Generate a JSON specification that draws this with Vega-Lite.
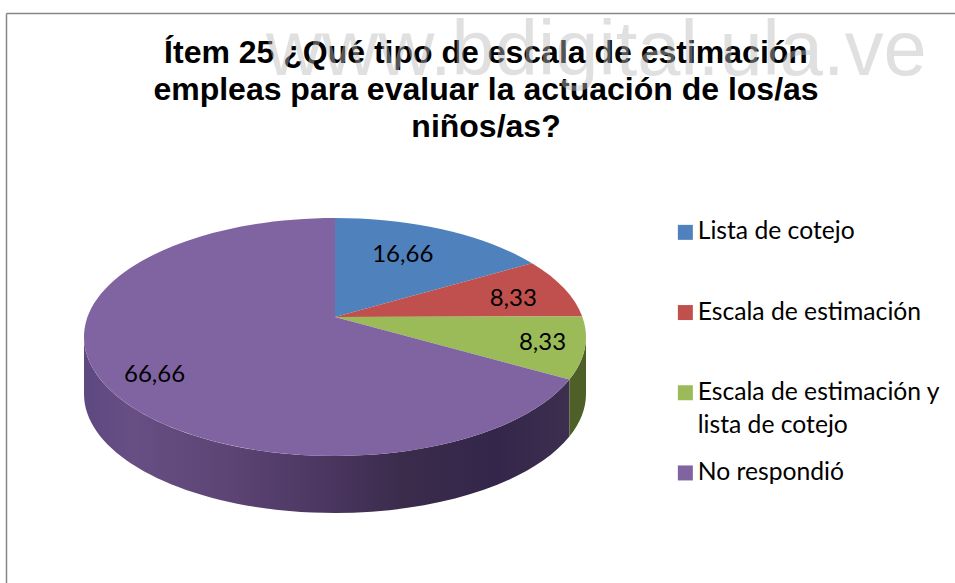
{
 "$schema":"https://vega.github.io/schema/vega-lite/v6.json",
 "autosize":{"type":"none"},
 "width":500,"height":200,
 "padding":{"left":85,"top":217,"right":370,"bottom":166},
 "background":"white",
 "view":{"stroke":null},
 "config":{"style":{"guide-label":{"lineHeight":33}}},
 "data":{"values":[
  {"categoria":"Lista de cotejo","valor":16.66,"orden":0},
  {"categoria":"Escala de estimación","valor":8.33,"orden":1},
  {"categoria":"Escala de estimación y lista de cotejo","valor":8.33,"orden":2},
  {"categoria":"No respondió","valor":66.66,"orden":3}
 ]},
 "transform":[
  {"joinaggregate":[{"op":"sum","field":"valor","as":"total"}]},
  {"window":[{"op":"sum","field":"valor","as":"acum"}],"sort":[{"field":"orden","order":"ascending"}]},
  {"calculate":"2*PI*(datum.acum-datum.valor)/datum.total","as":"a0"},
  {"calculate":"2*PI*datum.acum/datum.total","as":"a1"},
  {"calculate":"2*atan2(0.84*sin(datum.a0/2),cos(datum.a0/2))","as":"t0"},
  {"calculate":"2*atan2(0.84*sin(datum.a1/2),cos(datum.a1/2))","as":"t1"},
  {"calculate":"2*atan2(0.84*sin((datum.a0+datum.a1)/4),cos((datum.a0+datum.a1)/4))","as":"tm"},
  {"calculate":"'M0,0L'+(251*sin(datum.t0))+','+(20-119*cos(datum.t0))+'A251,119 0 '+(datum.t1-datum.t0>PI?1:0)+' 1 '+(251*sin(datum.t1))+','+(20-119*cos(datum.t1))+'Z'","as":"cara"},
  {"calculate":"max(datum.t0,PI/2)","as":"s0"},
  {"calculate":"min(datum.t1,3*PI/2)","as":"s1"},
  {"calculate":"'M'+(251*sin(datum.s0))+','+(20-119*cos(datum.s0))+'A251,119 0 0 1 '+(251*sin(datum.s1))+','+(20-119*cos(datum.s1))+'L'+(251*sin(datum.s1))+','+(77-119*cos(datum.s1))+'A251,119 0 0 0 '+(251*sin(datum.s0))+','+(77-119*cos(datum.s0))+'Z'","as":"lado"},
  {"calculate":"[0.63,0.78,0.83,0.77][datum.orden]*251*sin(datum.tm)","as":"lx"},
  {"calculate":"[0.71,0.62,0.84,0.93][datum.orden]*(20-119*cos(datum.tm))","as":"ly"},
  {"calculate":"replace(format(datum.valor,'.2f'),'.',',')","as":"etiqueta"}
 ],
 "layer":[
  {"data":{"values":[{}]},"transform":[],"mark":{"type":"rule","color":"#868686","strokeWidth":1.5},
   "encoding":{"x":{"value":-78.5},"y":{"value":-203.5},"y2":{"value":370}}},
  {"data":{"values":[{}]},"mark":{"type":"rule","color":"#868686","strokeWidth":1.5},
   "encoding":{"y":{"value":-203.5},"x":{"value":-78.5},"x2":{"value":875}}},
  {"transform":[{"filter":"datum.orden==3"}],
   "mark":{"type":"point","filled":true,"size":4,"opacity":1,
     "fill":{"gradient":"linear","x1":0,"x2":1,"y1":0,"y2":0,"stops":[
       {"offset":0,"color":"#5d4880"},{"offset":0.1,"color":"#674f84"},{"offset":0.3,"color":"#5c4474"},
       {"offset":0.5,"color":"#4b3660"},{"offset":0.65,"color":"#3b2c4c"},{"offset":0.85,"color":"#34264a"},{"offset":1,"color":"#3d2f4f"}]}},
   "encoding":{"shape":{"field":"lado","type":"nominal","scale":null,"legend":null}}},
  {"transform":[{"filter":"datum.orden==2"}],
   "mark":{"type":"point","filled":true,"size":4,"opacity":1,"fill":"#4e5f28"},
   "encoding":{"shape":{"field":"lado","type":"nominal","scale":null,"legend":null}}},
  {"mark":{"type":"point","filled":true,"size":4,"opacity":1},
   "encoding":{
    "shape":{"field":"cara","type":"nominal","scale":null,"legend":null},
    "color":{"field":"categoria","type":"nominal",
      "scale":{"domain":["Lista de cotejo","Escala de estimación","Escala de estimación y lista de cotejo","No respondió"],"range":["#4f81bd","#c0504d","#9bbb59","#8064a2"]},
      "legend":{"title":null,"orient":"none","legendX":588,"legendY":3,"symbolType":"square","symbolSize":225,"symbolOpacity":1,
        "labelFont":"Lato","labelFontSize":24.7,"labelColor":"#000000","labelLimit":300,"labelOffset":0,"gridAlign":"all","rowPadding":21.2,"columns":1,"labelBaseline":"middle",
        "labelExpr":"datum.label=='Escala de estimación y lista de cotejo'?['Escala de estimación y','lista de cotejo']:datum.label"}
    }}},
  {"mark":{"type":"text","font":"Lato","fontSize":24,"color":"#000000"},
   "encoding":{
    "x":{"field":"lx","type":"quantitative","scale":{"domain":[-250,250],"nice":false,"zero":false},"axis":null},
    "y":{"field":"ly","type":"quantitative","scale":{"domain":[-100,100],"range":[0,200],"nice":false,"zero":false},"axis":null},
    "text":{"field":"etiqueta","type":"nominal"}}},
  {"data":{"values":[{}]},
   "mark":{"type":"text","font":"Liberation Sans","fontWeight":"bold","fontSize":32,"lineHeight":37,"align":"center","baseline":"alphabetic","color":"#000000",
     "text":["Ítem 25 ¿Qué tipo de escala de estimación","empleas para evaluar la actuación de los/as","niños/as?"]},
   "encoding":{"x":{"value":401},"y":{"value":-154}}},
  {"data":{"values":[{}]},
   "mark":{"type":"text","font":"Liberation Sans","fontSize":77.7,"align":"left","baseline":"alphabetic","color":"#bbbbbb","opacity":0.45,"text":"www.bdigital.ula.ve"},
   "encoding":{"x":{"value":181},"y":{"value":-142}}}
 ]
}
